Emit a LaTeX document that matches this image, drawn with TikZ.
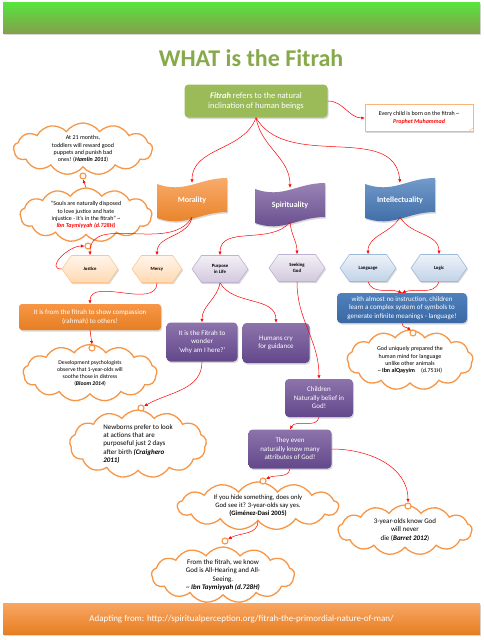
\documentclass[tikz,border=0pt]{standalone}
\usepackage{fontspec}
\setmainfont{Carlito}
\usetikzlibrary{shapes.symbols,shadows,arrows.meta,calc,backgrounds}

\definecolor{fitgreen}{HTML}{9BBB59}
\definecolor{titlegreen}{HTML}{86A94A}
\definecolor{corange}{HTML}{F79646}
\definecolor{dorange}{HTML}{E67E22}
\definecolor{mpurple}{HTML}{8064A2}
\definecolor{dpurple}{HTML}{62488A}
\definecolor{iblue}{HTML}{4F81BD}
\definecolor{dblue}{HTML}{3A68A3}

\begin{document}
\begin{tikzpicture}[x=1pt,y=-1pt,
    soft/.style={drop shadow={opacity=.3,shadow xshift=1pt,shadow yshift=-1.5pt}},
    link/.style={draw=red, line width=.5pt, -{Latex[length=3.5pt,width=3.2pt]}},
    banner/.style={rectangle, minimum width=477pt, minimum height=31pt, soft},
    flag/.style={minimum width=70pt, minimum height=34pt, text=white,
        font=\fontsize{8}{9}\selectfont\bfseries},
    hexbox/.style={signal, signal to=east and west, signal pointer angle=110,
        minimum width=56pt, minimum height=27pt, inner sep=1pt, align=center,
        line width=.6pt, font=\fontsize{4.8}{5.6}\selectfont\bfseries, soft},
    hexA/.style={hexbox, draw=orange!45, top color=orange!8, bottom color=orange!30},
    hexP/.style={hexbox, draw=mpurple!50, top color=mpurple!10, bottom color=mpurple!35},
    hexB/.style={hexbox, draw=iblue!55, top color=iblue!10, bottom color=iblue!35},
    pbox/.style={rectangle, rounded corners=4pt, top color=mpurple!90!white,
        bottom color=dpurple, text=white, align=center, soft,
        font=\fontsize{7}{8.5}\selectfont},
    obox/.style={rectangle, rounded corners=3pt, top color=corange, bottom color=dorange,
        text=white, align=center, soft, font=\fontsize{7}{8.4}\selectfont},
    bbox/.style={rectangle, rounded corners=4pt, top color=iblue, bottom color=dblue,
        text=white, align=center, soft, font=\fontsize{7}{8.4}\selectfont},
    cloudbox/.style={cloud, cloud puffs=13, cloud puff arc=110, cloud ignores aspect,
        draw=corange, line width=1.3pt, fill=white, align=center, inner sep=0pt,
        font=\fontsize{6}{7.2}\selectfont},
    bub/.style={circle, draw=corange, line width=1.1pt, fill=white,
        minimum size=6pt, inner sep=0pt}]
            \useasboundingbox (0,0) rectangle (483,640);

            % title and source bars
            \node[banner, top color=green!55!fitgreen!90!white, bottom color=fitgreen!85!black] at (241.5,18) (topbar) {};
            \node[font=\fontsize{24}{28}\selectfont\bfseries, text=titlegreen] at (251,58) (title) {WHAT is the Fitrah};
            \node[banner, top color=corange!85!white, bottom color=dorange, text=white,
                font=\fontsize{9}{11}\selectfont] at (241.5,619) (botbar) {Adapting from: http://spiritualperception.org/fitrah-the-primordial-nature-of-man/};

            \node[rectangle, rounded corners=4pt, fill=fitgreen, text=white, align=center, soft,
                minimum width=143pt, minimum height=33pt, font=\fontsize{8.5}{10.5}\selectfont]
                at (256,101) (fitrah) {\textbf{\textit{Fitrah}} refers to the natural\\inclination of human beings};
            \node[rectangle, draw=corange!70, fill=white, align=center, soft, minimum width=108pt,
                minimum height=27pt, font=\fontsize{6}{7.5}\selectfont]
                at (419,118) (quote) {Every child is born on the fitrah \textasciitilde\\\textcolor{red}{\textbf{\textit{Prophet Muhammad}}}};
            \draw[corange!70] ($(quote.south east)+(-5,0)$) -- ($(quote.south east)+(0,-4)$);

            % the three branches
            \node[flag] at (192,200) (mor) {Morality};
            \node[flag] at (290,205) (spi) {Spirituality};
            \node[flag] at (400,200) (int) {Intellectuality};

            \node[hexA] at (90,269) (justice) {Justice};
            \node[hexA, minimum width=50pt] at (157,269) (mercy) {Mercy};
            \node[hexP] at (220,269) (purpose) {Purpose\\in Life};
            \node[hexP] at (297,268) (seek) {Seeking\\God};
            \node[hexB] at (368,268) (lang) {Language};
            \node[hexB] at (439,268) (logic) {Logic};

            % morality side
            \node[cloudbox, minimum width=139pt, minimum height=52pt] at (83,149) (hamlin) {At 21 months,\\toddlers will reward good\\puppets and punish bad\\ones! (\textbf{\textit{Hamlin 2011}})};
            \node[cloudbox, minimum width=132pt, minimum height=54pt] at (86,215) (taym1) {“Souls are naturally disposed\\to love justice and hate\\injustice - it's in the fitrah” \textasciitilde\\\textcolor{red}{\textbf{\textit{Ibn Taymiyyah (d.728H)}}}};
            \node[bub] at (83,176) (bA) {};
            \node[bub] at (88,246) (bB) {};
            \node[obox, minimum width=142pt, minimum height=26pt] at (90,317) (compass) {It is from the fitrah to show compassion\\(rahmah) to others!};
            \node[cloudbox, minimum width=134pt, minimum height=57pt, font=\fontsize{5.7}{7}\selectfont] at (90,373) (bloom) {Development psychologists\\observe that 1-year-olds will\\soothe those in distress\\(\textbf{\textit{Bloom 2014}})};
            \node[bub] at (92,348) (bC) {};

            % spirituality side
            \node[pbox, minimum width=71pt, minimum height=39pt] at (202,342) (wonder) {It is the Fitrah to\\wonder\\‘why am I here?’};
            \node[pbox, minimum width=67pt, minimum height=40pt] at (276,343) (cry) {Humans cry\\for guidance};
            \node[cloudbox, align=left, minimum width=137pt, minimum height=68pt, font=\fontsize{7}{8.3}\selectfont] at (138,444) (craig) {Newborns prefer to look\\at actions that are\\purposeful just 2 days\\after birth \textbf{\textit{(Craighero}}\\\textbf{\textit{2011)}}};
            \node[bub] at (141,408) (bD) {};
            \node[pbox, minimum width=68pt, minimum height=38pt] at (319,398) (child) {Children\\Naturally belief in\\God!};
            \node[pbox, minimum width=83pt, minimum height=39pt] at (290,449) (attr) {They even\\naturally know many\\attributes of God!};
            \node[cloudbox, minimum width=161pt, minimum height=48pt, font=\fontsize{6.7}{8}\selectfont] at (258,506) (gimenez) {If you hide something, does only\\God see it? 3-year-olds say yes.\\\textbf{(Giménez-Dasi 2005)}};
            \node[bub] at (263,481) (bF) {};
            \node[cloudbox, minimum width=134pt, minimum height=50pt, font=\fontsize{7}{8.3}\selectfont] at (405,530) (barret) {3-year-olds know God\\will never\\die (\textbf{\textit{Barret 2012}})};
            \node[bub] at (408,506) (bG) {};
            \node[cloudbox, minimum width=143pt, minimum height=56pt, font=\fontsize{7}{8.3}\selectfont] at (223,575) (taym2) {From the fitrah, we know\\God is All-Hearing and All-\\Seeing.\\\textasciitilde\ \textbf{\textit{Ibn Taymiyyah (d.728H)}}};
            \node[bub] at (225,541) (bH) {};

            % intellectuality side
            \node[bbox, minimum width=130pt, minimum height=30pt] at (402,308) (symb) {with almost no instruction, children\\learn a complex system of symbols to\\generate infinite meanings - language!};
            \node[cloudbox, minimum width=126pt, minimum height=60pt] at (410,360) (qayyim) {God uniquely prepared the\\human mind for language\\unlike other animals\\\textasciitilde\ \textbf{Ibn alQayyim}\quad(d.751H)};
            \node[bub] at (413,333) (bE) {};

            % connectors
            \draw[link] (fitrah.south) to[out=-110,in=90] (mor.north);
            \draw[link] (fitrah.south) to[out=-80,in=90] (spi.north);
            \draw[link] (fitrah.south) to[out=-60,in=95] (int.north);
            \draw[link] (fitrah.east) to[out=0,in=180] (quote.west);
            \draw[link] (mor.south) to[out=-120,in=90] (justice.north);
            \draw[link] (mor.south) to[out=-100,in=90] (mercy.north);
            \draw[link] (spi.south) to[out=-130,in=90] (purpose.north);
            \draw[link] (spi.south) to[out=-85,in=90] (seek.north);
            \draw[link] (int.south) to[out=-120,in=90] (lang.north);
            \draw[link] (int.south) to[out=-60,in=90] (logic.north);
            \draw[link] (justice.west) to[out=180,in=180,looseness=1.3] (bB.west);
            \draw[link] (taym1.north) -- (bA.south);
            \draw[link] (mercy.south) to[out=-90,in=90] (compass.north);
            \draw[link] (compass.south) -- (bC.north);
            \draw[link] (purpose.south) to[out=-100,in=90] (wonder.north);
            \draw[link] (purpose.south) to[out=-60,in=90] (cry.north);
            \draw[link] (wonder.south) to[out=-90,in=30] (bD);
            \draw[link] (seek.south) to[out=-90,in=90] (child.north);
            \draw[link] (lang.south) to[out=-70,in=160] (symb.north);
            \draw[link] (logic.south) to[out=-110,in=20] (symb.north);
            \draw[link] (symb.south) to[out=-90,in=135] (bE);
            \draw[link] (child.south) to[out=-100,in=60] (attr.north);
            \draw[link] (attr.south) to[out=-100,in=30] (bF);
            \draw[link] (attr.east) to[out=0,in=90] (bG.north);
            \draw[link] (gimenez.south) to[out=-90,in=30] (bH);

            % wave banners behind the branch names
            \begin{scope}[on background layer]
                \fill[white] (0,0) rectangle (483,640);
                \foreach \n/\c/\d in {mor/corange/dorange, spi/mpurple/dpurple, int/iblue/dblue}{
                    \shade[top color=\c!80!white, bottom color=\d, soft]
                        ($(\n)+(-35,-16)$) .. controls ($(\n)+(-7,-6)$) and ($(\n)+(7,-22)$) .. ($(\n)+(35,-22)$)
                        -- ($(\n)+(35,12)$) .. controls ($(\n)+(7,12)$) and ($(\n)+(-7,28)$) .. ($(\n)+(-35,18)$) -- cycle;
                }
            \end{scope}
        \end{tikzpicture}
\end{document}
